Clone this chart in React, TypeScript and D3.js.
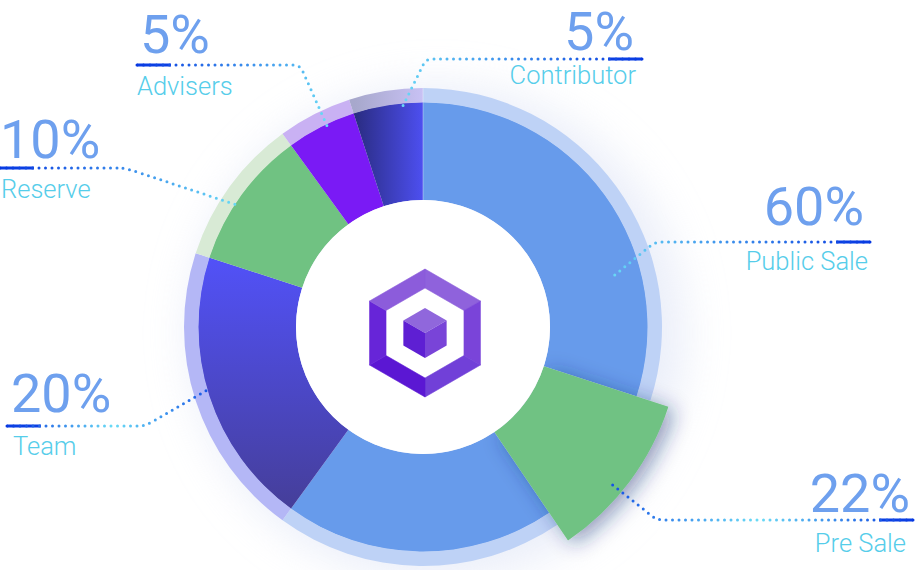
import React from 'react';
import * as d3 from 'd3';

// slices as drawn, clockwise from 12 o'clock (share of the full circle)
const sliceNames = ["Public Sale", "Pre Sale", "Public Sale", "Team", "Reserve", "Advisers", "Contributor"];
const sliceShares = [30, 10.5, 19.5, 20, 10, 5, 5];

// callout labels
const labelNames = ["Advisers", "Reserve", "Team", "Contributor", "Public Sale", "Pre Sale"];
const labelValues = [5, 10, 20, 5, 60, 22];

const W = 915, H = 570;
const cx = 423, cy = 327;
const innerR = 127, outerR = 225, ringR = 239, popR = 258;

const sliceFill = ["#679beb", "#6fc283", "#679beb", "url(#teamGrad)", "#70c282", "#7a1af5", "url(#contribGrad)"];
const ringFill = ["#bed2f6", null, "#bed2f6", "#b4b7f6", "#d8ead5", "#c9b1f3", "url(#contribRingGrad)"];

// where each callout sits: outer end of underline, elbow, anchor on the pie (deg, radius)
const labelLayout = [
  { side: "left", x: 137, lineY: 65, elbowX: 300, angle: -25.5, r: 223, numX: 140, numY: 53, nameX: 137, nameY: 95, mid: false },
  { side: "left", x: 0, lineY: 168, elbowX: 125, angle: -56.5, r: 219, numX: 0, numY: 158, nameX: 1, nameY: 198, mid: false },
  { side: "left", x: 7, lineY: 426, elbowX: 145, angle: -106, r: 220, numX: 11, numY: 412, nameX: 13, nameY: 455, mid: true },
  { side: "right", x: 642, lineY: 59, elbowX: 426, angle: -6, r: 217, numX: 634, numY: 50, nameX: 636, nameY: 84, mid: false },
  { side: "right", x: 870, lineY: 242, elbowX: 655, angle: 75.6, r: 193, numX: 864, numY: 225, nameX: 868, nameY: 270, mid: false },
  { side: "right", x: 913, lineY: 520, elbowX: 657, angle: 129.8, r: 243, numX: 910, numY: 512, nameX: 906, nameY: 552, mid: true },
];

const hexPoints = (r: number, ox: number, oy: number) =>
  d3.range(6).map((k) => {
    const a = (-90 + 60 * k) * Math.PI / 180;
    return [ox + r * Math.cos(a), oy + r * Math.sin(a)];
  });

function Logo() {
  const lx = 425, ly = 333;
  const outer = hexPoints(64, lx, ly);
  const inner = hexPoints(45, lx, ly);
  const faceColors = ["#8f62dc", "#7a44d9", "#7140d8", "#5b17d3", "#6725d8", "#8c5cdb"];
  const cube = hexPoints(25, lx, ly);
  const poly = (pts: number[][]) => pts.map((p) => p.join(",")).join(" ");

  return (
    <g>
      {faceColors.map((c, k) => {
        const n = (k + 1) % 6;
        return <polygon key={k} points={poly([outer[k], outer[n], inner[n], inner[k]])} fill={c} stroke={c} strokeWidth={0.6} strokeLinejoin="round" />;
      })}
      <polygon points={poly([cube[0], cube[1], [lx, ly], cube[5]])} fill="#9067dc" />
      <polygon points={poly([cube[5], [lx, ly], cube[3], cube[4]])} fill="#5e1fd3" />
      <polygon points={poly([[lx, ly], cube[1], cube[2], cube[3]])} fill="#7944d8" />
    </g>
  );
}

function Callout({ i }: { i: number }) {
  const l = labelLayout[i];
  const [ax, ay] = d3.pointRadial(l.angle * Math.PI / 180, l.r);
  const px = cx + ax, py = cy + ay;
  const dir = l.side === "left" ? 1 : -1;
  const path = `M${l.x},${l.lineY} H${l.elbowX - dir * 6} Q${l.elbowX},${l.lineY} ${l.elbowX + (px - l.elbowX) * 0.12},${l.lineY + (py - l.lineY) * 0.12} L${px},${py}`;
  const id = `lead${i}`;
  const anchor = l.side === "left" ? "start" : "end";

  return (
    <g>
      <defs>
        <linearGradient id={id} gradientUnits="userSpaceOnUse" x1={l.x} y1={l.lineY} x2={px} y2={py}>
          <stop offset="0" stopColor="#0637e0" />
          <stop offset={l.mid ? 0.5 : 1} stopColor="#6adcf6" />
          {l.mid && <stop offset="1" stopColor="#1450e6" />}
        </linearGradient>
      </defs>
      <line x1={l.x} y1={l.lineY} x2={l.x + dir * 34} y2={l.lineY} stroke="#0a3ee4" strokeWidth={3} />
      <path d={path} fill="none" stroke={`url(#${id})`} strokeWidth={3} strokeDasharray="0 6.5" strokeLinecap="round" />
      <text x={l.numX} y={l.numY} textAnchor={anchor} fontFamily="Roboto" fontSize={54} fill="#6ea0ee">{labelValues[i]}%</text>
      <text x={l.nameX} y={l.nameY} textAnchor={anchor} fontFamily="Roboto" fontWeight={300} fontSize={25.5} fill="#56cdea">{labelNames[i]}</text>
    </g>
  );
}

export default function App() {
  //D3 mathy bits
  const pie = d3.pie<number>().sort(null).value((d) => d).startAngle(0).endAngle(2 * Math.PI);
  const arcs = pie(sliceShares);
  const slice = d3.arc<d3.PieArcDatum<number>>().innerRadius(innerR).outerRadius(outerR);
  const ring = d3.arc<d3.PieArcDatum<number>>().innerRadius(outerR - 0.5).outerRadius(ringR);
  const pop = d3.arc<d3.PieArcDatum<number>>().innerRadius(innerR).outerRadius(popR);
  const popIndex = sliceNames.indexOf("Pre Sale");

  return (
    <svg width={W} height={H} style={{ position: 'absolute', left: 0, top: 0, background: '#fff' }}>
      <defs>
        {/* gradient coords are relative to the pie centre */}
        <linearGradient id="teamGrad" gradientUnits="userSpaceOnUse" x1={0} y1={-75} x2={0} y2={185}>
          <stop offset="0" stopColor="#5252fa" />
          <stop offset="1" stopColor="#453e98" />
        </linearGradient>
        <linearGradient id="contribGrad" gradientUnits="userSpaceOnUse" x1={-68} y1={0} x2={0} y2={0}>
          <stop offset="0" stopColor="#2a2c82" />
          <stop offset="1" stopColor="#4d4ff0" />
        </linearGradient>
        <linearGradient id="contribRingGrad" gradientUnits="userSpaceOnUse" x1={-68} y1={0} x2={0} y2={0}>
          <stop offset="0" stopColor="#a7a8cc" />
          <stop offset="1" stopColor="#c8c1f4" />
        </linearGradient>
        <filter id="glow" x="-30%" y="-30%" width="160%" height="160%">
          <feGaussianBlur stdDeviation="22" />
        </filter>
        <filter id="popShadow" x="-40%" y="-40%" width="180%" height="180%">
          <feDropShadow dx="6" dy="4" stdDeviation="10" floodColor="#1c2a6e" floodOpacity="0.45" />
        </filter>
      </defs>

      <circle cx={cx + 14} cy={cy + 6} r={ringR + 8} fill="#d9e0f4" opacity={0.55} filter="url(#glow)" />

      <g transform={`translate(${cx},${cy})`}>
        {arcs.map((a, i) => i === popIndex ? null : (
          <g key={i}>
            <path d={slice(a) || ""} fill={sliceFill[i]} />
            {ringFill[i] && <path d={ring(a) || ""} fill={ringFill[i] as string} />}
          </g>
        ))}
        <line x1={0} y1={-innerR} x2={0} y2={-ringR} stroke="#ffffff" strokeOpacity={0.35} strokeWidth={1} />
        <path d={pop(arcs[popIndex]) || ""} fill={sliceFill[popIndex]} filter="url(#popShadow)" />
        <circle r={innerR} fill="#ffffff" />
      </g>

      <Logo />

      {labelNames.map((_, i) => <Callout key={i} i={i} />)}
    </svg>
  );
}
